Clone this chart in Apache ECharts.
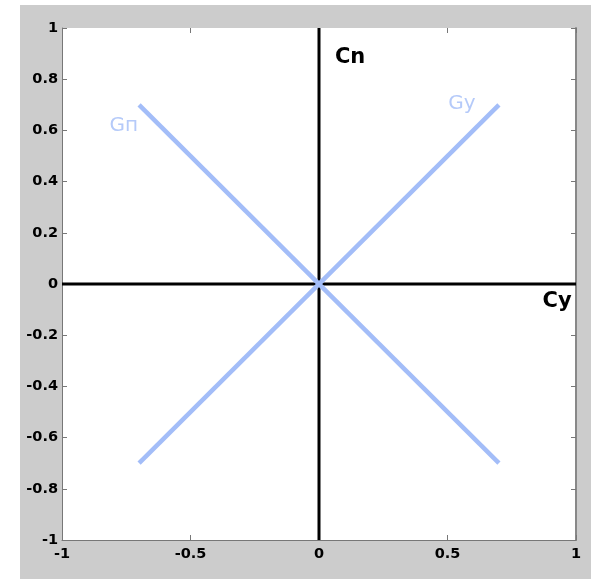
<!DOCTYPE html>
<html><head><meta charset="utf-8">
<script src="https://cdn.jsdelivr.net/npm/echarts@6/dist/echarts.min.js"></script>
<style>html,body{margin:0;padding:0;background:#fff}#c{width:591px;height:579px}</style>
</head><body><div id="c"></div>
<script>
const xTicks = [-1, -0.5, 0, 0.5, 1];
const yTicks = [-1, -0.8, -0.6, -0.4, -0.2, 0, 0.2, 0.4, 0.6, 0.8, 1];
const gnLine = [[-0.7, 0.7], [0.7, -0.7]];
const gyLine = [[-0.7, -0.7], [0.7, 0.7]];
const cyAxisLine = [[-1, 0], [1, 0]];
const cnAxisLine = [[0, -1], [0, 1]];
const blackLabels = [{name: 'Cn', value: [0.062, 0.885]}, {name: 'Cy', value: [0.87, -0.068]}];
const blueLabels = [{name: 'Gп', value: [-0.815, 0.617]}, {name: 'Gy', value: [0.503, 0.703]}];

const chart = echarts.init(document.getElementById('c'));
const tickFont = {fontFamily: 'DejaVu Sans', fontWeight: 'bold', fontSize: 14.5, color: '#000'};
const fmt = v => String(Math.round(v * 10) / 10);
const blue = '#a3bdf8';
chart.setOption({
  animation: false,
  graphic: [{type: 'rect', z: -10, shape: {x: 20, y: 5, width: 571, height: 574}, style: {fill: '#cccccc'}},
            {type: 'rect', z: -9, shape: {x: 62, y: 28, width: 514, height: 512}, style: {fill: '#ffffff'}}],
  grid: {left: 62, top: 28, width: 514, height: 512, show: false},
  xAxis: [
    {type: 'value', min: -1, max: 1, interval: 0.5, position: 'bottom',
     axisLine: {show: true, onZero: false, lineStyle: {color: '#777', width: 1}},
     axisTick: {show: true, inside: true, length: 5, lineStyle: {color: '#777'}},
     axisLabel: Object.assign({margin: 7, formatter: fmt}, tickFont), splitLine: {show: false}},
    {type: 'value', min: -1, max: 1, interval: 0.5, position: 'top',
     axisLine: {show: false, onZero: false},
     axisTick: {show: true, inside: true, length: 5, lineStyle: {color: '#777'}},
     axisLabel: {show: false}, splitLine: {show: false}}
  ],
  yAxis: [
    {type: 'value', min: -1, max: 1, interval: 0.2, position: 'left',
     axisLine: {show: true, onZero: false, lineStyle: {color: '#777', width: 1}},
     axisTick: {show: true, inside: true, length: 5, lineStyle: {color: '#777'}},
     axisLabel: Object.assign({margin: 4, formatter: fmt}, tickFont), splitLine: {show: false}},
    {type: 'value', min: -1, max: 1, interval: 0.2, position: 'right',
     axisLine: {show: true, onZero: false, lineStyle: {color: '#888', width: 2}},
     axisTick: {show: true, inside: true, length: 5, lineStyle: {color: '#777'}},
     axisLabel: {show: false}, splitLine: {show: false}}
  ],
  series: [
    {type: 'line', data: cyAxisLine, symbol: 'none', lineStyle: {color: '#000', width: 3}},
    {type: 'line', data: cnAxisLine, symbol: 'none', lineStyle: {color: '#000', width: 3}},
    {type: 'line', data: gnLine, symbol: 'none', lineStyle: {color: blue, width: 4.5}},
    {type: 'line', data: gyLine, symbol: 'none', lineStyle: {color: blue, width: 4.5}},
    {type: 'scatter', data: blackLabels, symbolSize: 0,
     label: {show: true, position: 'right', distance: 0, formatter: p => p.name,
             fontFamily: 'DejaVu Sans', fontWeight: 'bold', fontSize: 21, color: '#000', opacity: 1}},
    {type: 'scatter', data: blueLabels, symbolSize: 0,
     label: {show: true, position: 'right', distance: 0, formatter: p => p.name,
             fontFamily: 'DejaVu Sans', fontSize: 20, color: blue}}
  ]
});
</script></body></html>
